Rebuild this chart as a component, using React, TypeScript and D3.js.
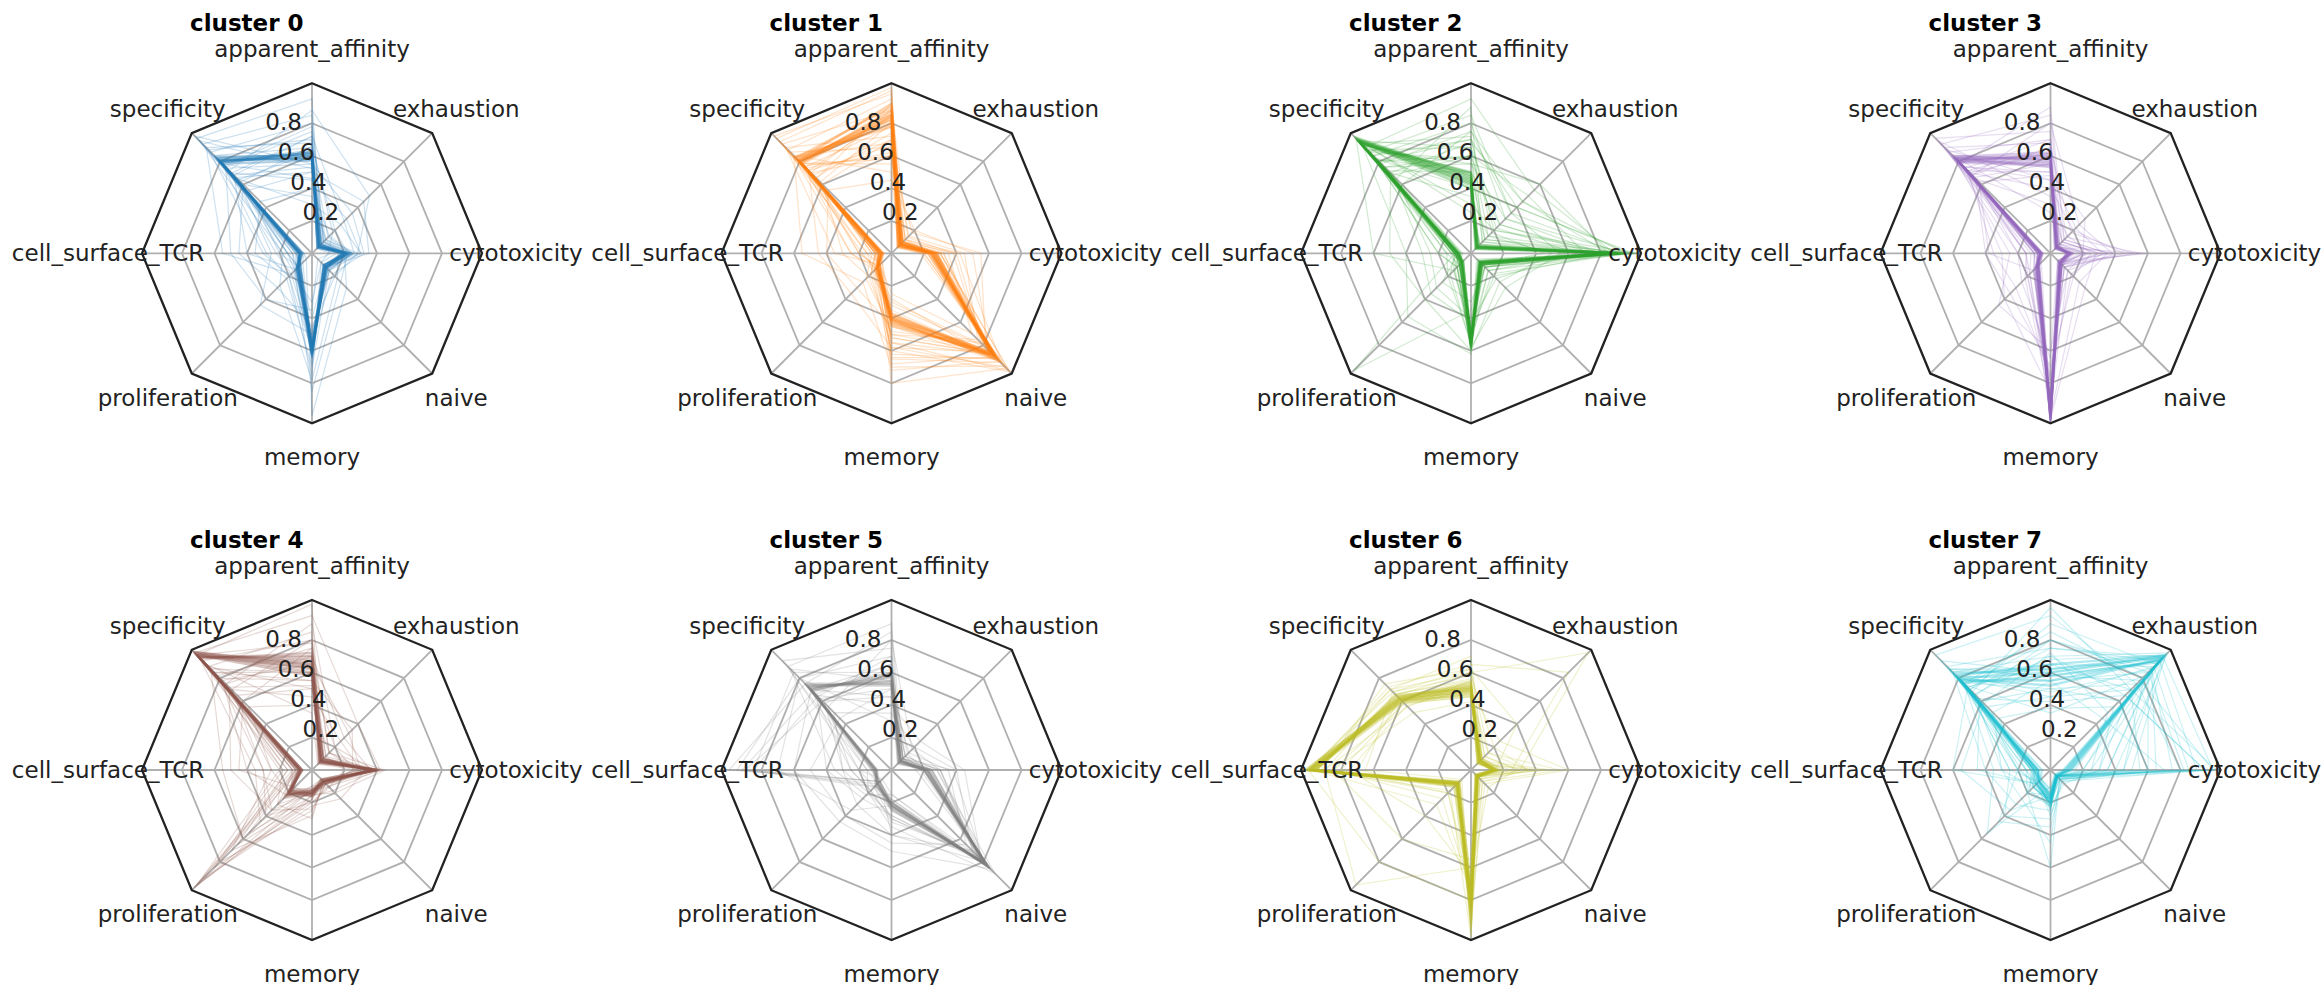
import React from 'react';
import * as d3 from 'd3';

// Radar axes, clockwise from the top
const AXES = [
  'apparent_affinity',
  'exhaustion',
  'cytotoxicity',
  'naive',
  'memory',
  'proliferation',
  'cell_surface_TCR',
  'specificity',
];

const RING_TICKS = [0.2, 0.4, 0.6, 0.8];
const RING_LABELS = ['0.2', '0.4', '0.6', '0.8'];
const R_MAX = 1.046;

const CLUSTER_NAMES = [
  'cluster 0', 'cluster 1', 'cluster 2', 'cluster 3',
  'cluster 4', 'cluster 5', 'cluster 6', 'cluster 7',
];

const CLUSTER_COLORS = [
  '#1f77b4', '#ff7f0e', '#2ca02c', '#9467bd',
  '#8c564b', '#7f7f7f', '#bcbd22', '#17becf',
];

// Per-cell profiles: [affinity, exhaustion, cytotoxicity, naive, memory, proliferation, TCR, specificity]
const cluster0Core = [
  [0.60, 0.06, 0.21, 0.12, 0.60, 0.12, 0.07, 0.80],
  [0.58, 0.05, 0.20, 0.11, 0.58, 0.13, 0.08, 0.82],
  [0.62, 0.07, 0.22, 0.12, 0.62, 0.11, 0.06, 0.79],
  [0.59, 0.06, 0.19, 0.13, 0.57, 0.12, 0.09, 0.81],
  [0.61, 0.05, 0.23, 0.10, 0.61, 0.14, 0.07, 0.83],
  [0.57, 0.07, 0.21, 0.12, 0.59, 0.10, 0.08, 0.78],
  [0.63, 0.06, 0.20, 0.11, 0.63, 0.13, 0.06, 0.80],
  [0.60, 0.08, 0.22, 0.13, 0.56, 0.12, 0.07, 0.84],
  [0.58, 0.06, 0.24, 0.12, 0.60, 0.11, 0.08, 0.81],
  [0.62, 0.05, 0.19, 0.11, 0.62, 0.13, 0.07, 0.79],
];
const cluster0Spread = [
  [0.85, 0.10, 0.25, 0.10, 0.55, 0.10, 0.10, 0.95],
  [0.45, 0.30, 0.30, 0.15, 0.50, 0.15, 0.15, 0.70],
  [0.70, 0.05, 0.15, 0.08, 0.75, 0.20, 0.30, 0.90],
  [0.35, 0.12, 0.28, 0.20, 0.45, 0.30, 0.45, 0.60],
  [0.95, 0.08, 0.18, 0.10, 0.65, 0.08, 0.05, 1.00],
  [0.50, 0.45, 0.35, 0.12, 0.40, 0.12, 0.20, 0.55],
  [0.65, 0.20, 0.22, 0.25, 0.85, 0.15, 0.12, 0.85],
  [0.75, 0.04, 0.12, 0.05, 0.35, 0.40, 0.50, 0.75],
  [0.40, 0.15, 0.25, 0.15, 0.70, 0.22, 0.35, 0.45],
  [0.55, 0.35, 0.32, 0.18, 0.55, 0.10, 0.08, 1.02],
  [0.80, 0.10, 0.20, 0.30, 1.00, 0.05, 0.05, 0.88],
  [0.30, 0.25, 0.30, 0.12, 0.50, 0.45, 0.25, 0.65],
  [0.68, 0.18, 0.10, 0.08, 0.30, 0.18, 0.55, 0.92],
  [0.88, 0.50, 0.28, 0.10, 0.62, 0.12, 0.15, 0.72],
  [0.52, 0.08, 0.16, 0.22, 0.78, 0.28, 0.18, 0.98],
  [0.72, 0.28, 0.26, 0.14, 0.48, 0.14, 0.40, 0.68],
  [0.50, 0.10, 0.22, 0.12, 0.58, 0.14, 0.10, 0.66],
  [0.66, 0.08, 0.20, 0.10, 0.62, 0.12, 0.15, 0.62],
  [0.55, 0.12, 0.25, 0.14, 0.55, 0.18, 0.22, 0.74],
  [0.72, 0.06, 0.18, 0.12, 0.65, 0.10, 0.08, 0.70],
  [0.46, 0.09, 0.21, 0.10, 0.60, 0.20, 0.28, 0.78],
  [0.62, 0.14, 0.24, 0.15, 0.52, 0.13, 0.12, 0.64],
  [0.78, 0.07, 0.19, 0.11, 0.68, 0.11, 0.06, 0.76],
  [0.53, 0.11, 0.23, 0.13, 0.64, 0.16, 0.18, 0.68],
];

const cluster1Core = [
  [0.85, 0.08, 0.26, 0.88, 0.40, 0.12, 0.06, 0.80],
  [0.82, 0.07, 0.24, 0.90, 0.42, 0.11, 0.07, 0.82],
  [0.88, 0.09, 0.27, 0.86, 0.38, 0.13, 0.05, 0.79],
  [0.80, 0.08, 0.25, 0.92, 0.41, 0.12, 0.08, 0.81],
  [0.90, 0.06, 0.23, 0.89, 0.39, 0.10, 0.06, 0.83],
  [0.84, 0.10, 0.28, 0.87, 0.43, 0.14, 0.07, 0.78],
  [0.86, 0.07, 0.25, 0.91, 0.37, 0.12, 0.06, 0.80],
  [0.78, 0.08, 0.26, 0.85, 0.40, 0.11, 0.09, 0.84],
  [0.92, 0.09, 0.24, 0.93, 0.41, 0.13, 0.06, 0.81],
  [0.83, 0.07, 0.27, 0.88, 0.44, 0.12, 0.07, 0.79],
];
const cluster1Spread = [
  [0.95, 0.05, 0.30, 1.02, 0.55, 0.10, 0.05, 0.90],
  [0.60, 0.10, 0.40, 0.80, 0.30, 0.15, 0.10, 0.70],
  [1.02, 0.08, 0.20, 0.95, 0.65, 0.08, 0.08, 1.00],
  [0.70, 0.15, 0.45, 0.75, 0.50, 0.20, 0.30, 0.60],
  [0.50, 0.06, 0.22, 0.98, 0.70, 0.25, 0.55, 0.85],
  [0.88, 0.12, 0.35, 0.70, 0.25, 0.10, 0.15, 0.95],
  [0.78, 0.05, 0.18, 1.00, 0.80, 0.12, 0.20, 0.75],
  [0.45, 0.20, 0.50, 0.85, 0.45, 0.30, 0.40, 0.55],
  [0.98, 0.10, 0.25, 0.90, 0.35, 0.08, 0.05, 1.02],
  [0.65, 0.08, 0.30, 1.03, 0.60, 0.15, 0.25, 0.88],
  [0.92, 0.14, 0.38, 0.78, 0.48, 0.22, 0.12, 0.65],
  [0.72, 0.06, 0.28, 0.94, 0.72, 0.10, 0.35, 0.92],
  [0.58, 0.18, 0.55, 0.82, 0.32, 0.18, 0.10, 0.78],
  [0.85, 0.05, 0.20, 0.99, 0.58, 0.35, 0.45, 0.72],
  [1.00, 0.09, 0.32, 0.88, 0.52, 0.12, 0.08, 0.97],
  [0.68, 0.12, 0.42, 0.96, 0.28, 0.14, 0.18, 0.84],
  [0.70, 0.08, 0.25, 0.88, 0.55, 0.12, 0.10, 0.68],
  [0.62, 0.10, 0.28, 0.92, 0.62, 0.14, 0.08, 0.74],
  [0.80, 0.07, 0.22, 0.85, 0.50, 0.10, 0.12, 0.62],
  [0.55, 0.09, 0.30, 0.90, 0.68, 0.16, 0.15, 0.78],
  [0.74, 0.08, 0.26, 0.94, 0.45, 0.12, 0.20, 0.66],
  [0.66, 0.12, 0.24, 0.86, 0.58, 0.18, 0.10, 0.72],
  [0.88, 0.06, 0.27, 0.91, 0.64, 0.11, 0.06, 0.70],
  [0.60, 0.10, 0.32, 0.87, 0.52, 0.13, 0.25, 0.76],
];

const cluster2Core = [
  [0.45, 0.05, 0.90, 0.08, 0.56, 0.08, 0.08, 0.97],
  [0.42, 0.06, 0.88, 0.09, 0.54, 0.07, 0.09, 0.98],
  [0.48, 0.04, 0.92, 0.07, 0.58, 0.09, 0.07, 0.96],
  [0.44, 0.05, 0.86, 0.08, 0.55, 0.08, 0.10, 1.00],
  [0.50, 0.06, 0.91, 0.10, 0.53, 0.07, 0.08, 0.95],
  [0.46, 0.05, 0.89, 0.08, 0.57, 0.10, 0.09, 0.99],
  [0.40, 0.07, 0.93, 0.09, 0.55, 0.08, 0.07, 0.97],
  [0.47, 0.05, 0.87, 0.07, 0.59, 0.09, 0.08, 1.01],
  [0.43, 0.06, 0.90, 0.08, 0.52, 0.08, 0.10, 0.96],
  [0.49, 0.04, 0.94, 0.09, 0.56, 0.07, 0.08, 0.98],
];
const cluster2Spread = [
  [0.80, 0.30, 0.95, 0.10, 0.45, 0.10, 0.05, 0.85],
  [0.60, 0.50, 0.70, 0.15, 0.50, 0.15, 0.10, 0.75],
  [0.30, 0.20, 1.02, 0.05, 0.58, 0.08, 0.12, 0.95],
  [0.90, 0.10, 0.60, 0.12, 0.40, 0.30, 0.25, 0.65],
  [0.55, 0.60, 0.85, 0.20, 0.48, 0.12, 0.08, 0.90],
  [0.70, 0.40, 1.00, 0.08, 0.55, 0.20, 0.15, 0.80],
  [0.35, 0.15, 0.50, 0.25, 0.60, 0.40, 0.50, 0.70],
  [0.65, 0.25, 0.80, 0.10, 0.35, 1.02, 0.10, 0.98],
  [0.75, 0.45, 0.95, 0.18, 0.52, 0.10, 0.06, 0.60],
  [0.25, 0.08, 0.75, 0.06, 0.45, 0.15, 0.60, 1.00],
  [0.85, 0.35, 0.55, 0.30, 0.58, 0.12, 0.20, 0.88],
  [0.50, 0.12, 1.03, 0.12, 0.30, 0.25, 0.08, 0.72],
  [0.95, 0.55, 0.88, 0.08, 0.50, 0.08, 0.12, 0.92],
  [0.60, 0.22, 0.65, 0.22, 0.42, 0.35, 0.30, 0.68],
  [0.40, 0.40, 0.98, 0.15, 0.56, 0.18, 0.10, 0.82],
  [0.72, 0.18, 0.45, 0.10, 0.62, 0.55, 0.40, 0.95],
  [0.60, 0.12, 0.85, 0.08, 0.55, 0.10, 0.10, 0.80],
  [0.70, 0.20, 0.90, 0.10, 0.52, 0.08, 0.08, 0.85],
  [0.55, 0.30, 0.80, 0.08, 0.58, 0.12, 0.12, 0.75],
  [0.65, 0.15, 0.95, 0.12, 0.50, 0.10, 0.15, 0.90],
  [0.50, 0.25, 0.75, 0.09, 0.56, 0.14, 0.08, 0.82],
  [0.75, 0.35, 0.92, 0.10, 0.54, 0.08, 0.10, 0.78],
  [0.58, 0.10, 0.88, 0.07, 0.60, 0.12, 0.20, 0.88],
  [0.68, 0.45, 0.85, 0.12, 0.48, 0.10, 0.10, 0.70],
];

const cluster3Core = [
  [0.58, 0.05, 0.12, 0.08, 1.02, 0.11, 0.06, 0.82],
  [0.55, 0.06, 0.10, 0.09, 1.00, 0.12, 0.07, 0.80],
  [0.60, 0.04, 0.13, 0.07, 1.03, 0.10, 0.05, 0.83],
  [0.56, 0.05, 0.11, 0.08, 0.98, 0.13, 0.06, 0.81],
  [0.62, 0.06, 0.14, 0.09, 1.01, 0.11, 0.08, 0.84],
  [0.54, 0.05, 0.12, 0.10, 0.96, 0.12, 0.06, 0.79],
  [0.59, 0.07, 0.10, 0.08, 1.03, 0.10, 0.07, 0.82],
  [0.57, 0.05, 0.13, 0.07, 0.99, 0.12, 0.05, 0.85],
  [0.61, 0.04, 0.12, 0.09, 1.00, 0.14, 0.06, 0.80],
  [0.53, 0.06, 0.11, 0.08, 1.02, 0.11, 0.07, 0.83],
];
const cluster3Spread = [
  [0.85, 0.10, 0.30, 0.10, 0.90, 0.15, 0.10, 0.95],
  [0.40, 0.20, 0.45, 0.12, 0.80, 0.20, 0.15, 0.70],
  [0.70, 0.05, 0.60, 0.08, 1.03, 0.10, 0.05, 0.88],
  [0.30, 0.15, 0.25, 0.20, 0.70, 0.35, 0.40, 0.65],
  [0.75, 0.08, 0.40, 0.15, 0.95, 0.12, 0.08, 1.00],
  [0.50, 0.30, 0.20, 0.10, 0.85, 0.40, 0.30, 0.75],
  [0.90, 0.12, 0.35, 0.25, 1.00, 0.08, 0.05, 0.78],
  [0.45, 0.05, 0.15, 0.06, 0.65, 0.25, 0.20, 0.90],
  [0.65, 0.18, 0.50, 0.12, 0.75, 0.30, 0.35, 0.72],
  [0.35, 0.10, 0.28, 0.30, 1.02, 0.18, 0.12, 0.98],
  [0.80, 0.25, 0.38, 0.08, 0.88, 0.10, 0.10, 0.68],
  [0.25, 0.08, 0.22, 0.15, 0.60, 0.45, 0.25, 0.85],
  [0.68, 0.14, 0.55, 0.10, 0.92, 0.22, 0.15, 0.92],
  [0.48, 0.22, 0.32, 0.18, 0.78, 0.15, 0.38, 0.62],
  [0.50, 0.08, 0.20, 0.10, 0.95, 0.14, 0.10, 0.72],
  [0.65, 0.06, 0.25, 0.08, 1.00, 0.12, 0.08, 0.68],
  [0.45, 0.10, 0.30, 0.12, 0.90, 0.18, 0.15, 0.76],
  [0.70, 0.07, 0.18, 0.09, 0.98, 0.10, 0.06, 0.74],
  [0.55, 0.12, 0.35, 0.10, 0.85, 0.20, 0.20, 0.66],
  [0.62, 0.05, 0.22, 0.08, 1.02, 0.13, 0.10, 0.70],
];

const cluster4Core = [
  [0.65, 0.08, 0.38, 0.10, 0.14, 0.20, 0.07, 1.00],
  [0.62, 0.07, 0.40, 0.09, 0.15, 0.18, 0.08, 1.02],
  [0.70, 0.09, 0.36, 0.11, 0.13, 0.22, 0.06, 0.98],
  [0.60, 0.08, 0.39, 0.10, 0.16, 0.19, 0.07, 1.01],
  [0.68, 0.06, 0.41, 0.08, 0.14, 0.21, 0.09, 0.99],
  [0.64, 0.09, 0.37, 0.10, 0.12, 0.17, 0.07, 1.03],
  [0.72, 0.07, 0.38, 0.11, 0.15, 0.23, 0.06, 0.97],
  [0.58, 0.08, 0.40, 0.09, 0.14, 0.20, 0.08, 1.00],
  [0.66, 0.10, 0.35, 0.10, 0.13, 0.18, 0.07, 1.02],
  [0.63, 0.07, 0.39, 0.12, 0.16, 0.21, 0.06, 0.99],
];
const cluster4Spread = [
  [0.80, 0.10, 0.35, 0.10, 0.12, 1.02, 0.10, 0.95],
  [0.45, 0.25, 0.30, 0.15, 0.20, 0.40, 0.30, 0.70],
  [1.02, 0.08, 0.40, 0.08, 0.10, 0.25, 0.08, 1.00],
  [0.55, 0.35, 0.25, 0.12, 0.25, 0.80, 0.15, 0.85],
  [0.75, 0.15, 0.45, 0.20, 0.15, 0.15, 0.45, 0.60],
  [0.35, 0.05, 0.30, 0.08, 0.18, 1.00, 0.20, 0.92],
  [0.90, 0.20, 0.38, 0.10, 0.30, 0.30, 0.10, 0.75],
  [0.60, 0.12, 0.20, 0.15, 0.12, 0.60, 0.55, 0.88],
  [0.95, 0.40, 0.42, 0.10, 0.14, 0.18, 0.12, 1.02],
  [0.50, 0.08, 0.33, 0.25, 0.22, 0.95, 0.08, 0.65],
  [0.70, 0.28, 0.36, 0.12, 0.10, 0.45, 0.35, 0.98],
  [0.40, 0.15, 0.28, 0.10, 0.28, 0.70, 0.25, 0.55],
  [0.85, 0.06, 0.40, 0.18, 0.16, 1.03, 0.12, 0.90],
  [0.65, 0.32, 0.30, 0.08, 0.12, 0.22, 0.40, 0.78],
  [0.78, 0.10, 0.44, 0.14, 0.20, 0.85, 0.18, 1.00],
  [0.52, 0.20, 0.26, 0.12, 0.24, 0.35, 0.50, 0.72],
  [0.55, 0.10, 0.36, 0.10, 0.15, 0.25, 0.12, 0.80],
  [0.70, 0.12, 0.40, 0.12, 0.14, 0.30, 0.18, 0.75],
  [0.60, 0.08, 0.38, 0.09, 0.16, 0.55, 0.10, 0.85],
  [0.80, 0.15, 0.34, 0.11, 0.13, 0.20, 0.25, 0.70],
  [0.50, 0.10, 0.42, 0.10, 0.18, 0.65, 0.15, 0.90],
  [0.75, 0.07, 0.37, 0.12, 0.14, 0.35, 0.30, 0.82],
];

const cluster5Core = [
  [0.55, 0.08, 0.22, 0.82, 0.22, 0.12, 0.10, 0.72],
  [0.52, 0.07, 0.20, 0.84, 0.20, 0.11, 0.09, 0.74],
  [0.58, 0.09, 0.24, 0.80, 0.24, 0.13, 0.11, 0.70],
  [0.54, 0.08, 0.21, 0.83, 0.21, 0.12, 0.10, 0.73],
  [0.57, 0.06, 0.23, 0.81, 0.23, 0.10, 0.12, 0.71],
  [0.53, 0.08, 0.20, 0.85, 0.20, 0.14, 0.09, 0.75],
  [0.60, 0.07, 0.22, 0.79, 0.22, 0.12, 0.10, 0.69],
];
const cluster5Spread = [
  [0.70, 0.10, 0.25, 0.80, 0.25, 0.12, 0.95, 0.80],
  [0.45, 0.12, 0.30, 0.75, 0.30, 0.15, 0.90, 0.60],
  [0.85, 0.08, 0.20, 0.85, 0.20, 0.10, 1.00, 0.75],
  [0.60, 0.05, 0.22, 0.82, 0.18, 0.14, 0.85, 0.85],
  [0.35, 0.20, 0.40, 0.70, 0.40, 0.30, 0.30, 0.50],
  [0.90, 0.10, 0.15, 0.88, 0.15, 0.08, 0.20, 0.90],
  [0.50, 0.15, 0.35, 0.65, 0.45, 0.40, 0.50, 0.45],
  [0.75, 0.06, 0.28, 0.90, 0.35, 0.20, 0.15, 0.95],
  [0.40, 0.25, 0.45, 0.78, 0.28, 0.25, 0.40, 0.65],
  [0.65, 0.12, 0.18, 0.86, 0.50, 0.45, 0.60, 0.70],
  [0.80, 0.18, 0.30, 0.72, 0.32, 0.18, 0.25, 0.55],
  [0.30, 0.08, 0.25, 0.84, 0.22, 0.35, 0.70, 0.80],
  [0.62, 0.10, 0.38, 0.80, 0.40, 0.10, 0.92, 0.68],
  [0.55, 0.14, 0.20, 0.76, 0.15, 0.22, 0.35, 0.88],
  [0.50, 0.10, 0.25, 0.80, 0.25, 0.15, 0.20, 0.62],
  [0.65, 0.08, 0.22, 0.84, 0.22, 0.12, 0.15, 0.66],
  [0.45, 0.12, 0.28, 0.78, 0.30, 0.18, 0.25, 0.70],
  [0.70, 0.06, 0.20, 0.86, 0.18, 0.10, 0.85, 0.64],
  [0.58, 0.10, 0.30, 0.82, 0.28, 0.20, 0.30, 0.58],
];

const cluster6Core = [
  [0.50, 0.08, 0.15, 0.05, 0.80, 0.12, 0.98, 0.62],
  [0.48, 0.07, 0.14, 0.06, 0.82, 0.11, 1.00, 0.60],
  [0.52, 0.09, 0.16, 0.05, 0.78, 0.13, 0.96, 0.64],
  [0.49, 0.08, 0.13, 0.04, 0.85, 0.12, 0.99, 0.61],
  [0.51, 0.06, 0.15, 0.06, 0.76, 0.10, 1.01, 0.63],
  [0.47, 0.08, 0.17, 0.05, 0.88, 0.13, 0.97, 0.59],
  [0.53, 0.07, 0.14, 0.05, 0.80, 0.12, 1.02, 0.62],
  [0.50, 0.09, 0.15, 0.06, 0.92, 0.11, 0.95, 0.65],
  [0.46, 0.08, 0.16, 0.04, 0.74, 0.14, 0.98, 0.60],
  [0.54, 0.07, 0.13, 0.06, 0.83, 0.12, 1.00, 0.63],
  [0.49, 0.08, 0.15, 0.05, 0.96, 0.12, 0.99, 0.61],
  [0.51, 0.06, 0.14, 0.05, 0.70, 0.11, 0.97, 0.62],
];
const cluster6Spread = [
  [0.60, 1.02, 0.30, 0.05, 0.85, 0.12, 0.95, 0.65],
  [0.45, 0.15, 0.55, 0.10, 0.70, 0.20, 0.80, 0.58],
  [0.70, 0.10, 0.20, 0.05, 1.02, 0.10, 1.00, 0.70],
  [0.55, 0.05, 0.40, 0.08, 0.60, 1.00, 0.90, 0.55],
  [0.48, 0.25, 0.60, 0.12, 0.90, 0.15, 0.70, 0.62],
  [0.65, 0.85, 0.25, 0.06, 0.75, 0.30, 0.98, 0.72],
  [0.42, 0.10, 0.18, 0.04, 0.55, 0.60, 0.85, 0.50],
  [0.58, 0.20, 0.35, 0.10, 1.00, 0.08, 0.65, 0.68],
  [0.52, 0.08, 0.50, 0.05, 0.80, 0.80, 1.00, 0.60],
  [0.62, 0.40, 0.15, 0.08, 0.95, 0.12, 0.92, 0.75],
  [0.50, 0.12, 0.28, 0.15, 0.65, 0.40, 0.75, 0.56],
  [0.56, 0.06, 0.45, 0.06, 1.03, 0.18, 0.95, 0.66],
  [0.55, 0.10, 0.20, 0.06, 0.80, 0.20, 0.90, 0.66],
  [0.60, 0.12, 0.30, 0.08, 0.85, 0.15, 0.95, 0.70],
  [0.45, 0.08, 0.25, 0.05, 0.75, 0.25, 0.85, 0.58],
  [0.62, 0.15, 0.35, 0.06, 0.90, 0.10, 1.00, 0.68],
];

const cluster7Core = [
  [0.60, 0.98, 0.10, 0.05, 0.18, 0.10, 0.08, 0.80],
  [0.55, 0.96, 0.12, 0.06, 0.20, 0.12, 0.10, 0.78],
  [0.65, 1.00, 0.08, 0.04, 0.16, 0.09, 0.07, 0.82],
  [0.58, 0.94, 0.11, 0.05, 0.22, 0.11, 0.09, 0.76],
  [0.62, 0.99, 0.09, 0.06, 0.17, 0.10, 0.08, 0.84],
  [0.52, 0.97, 0.13, 0.05, 0.19, 0.13, 0.11, 0.79],
];
const cluster7Spread = [
  [0.80, 0.85, 0.82, 0.05, 0.15, 0.10, 0.10, 0.65],
  [0.45, 0.70, 1.02, 0.08, 0.20, 0.15, 0.12, 0.55],
  [0.70, 1.02, 0.40, 0.06, 0.25, 0.30, 0.40, 0.85],
  [0.95, 0.75, 0.20, 0.05, 0.12, 0.08, 0.05, 1.00],
  [0.50, 0.60, 0.60, 0.10, 0.35, 0.45, 0.20, 0.60],
  [0.65, 0.90, 0.85, 0.06, 0.18, 0.12, 0.60, 0.72],
  [0.38, 0.55, 0.30, 0.12, 0.22, 0.20, 0.15, 0.45],
  [0.75, 0.98, 1.00, 0.05, 0.15, 0.10, 0.08, 0.90],
  [0.55, 0.45, 0.70, 0.08, 0.45, 0.25, 0.30, 0.50],
  [0.85, 0.80, 0.15, 0.04, 0.10, 0.55, 0.35, 0.75],
  [0.60, 1.00, 0.50, 0.06, 0.20, 0.15, 0.10, 0.95],
  [0.42, 0.65, 0.95, 0.10, 0.28, 0.12, 0.45, 0.62],
  [0.90, 0.92, 0.35, 0.05, 0.14, 0.10, 0.05, 0.70],
  [0.48, 0.88, 0.75, 0.08, 0.60, 0.20, 0.20, 0.82],
  [0.72, 0.50, 0.25, 0.06, 0.16, 0.35, 0.55, 0.58],
  [0.58, 0.95, 0.90, 0.05, 0.12, 0.08, 0.12, 0.88],
  [1.00, 0.70, 0.55, 0.07, 0.24, 0.14, 0.18, 0.68],
  [0.35, 0.82, 0.45, 0.09, 0.30, 0.40, 0.25, 0.74],
  [0.65, 0.70, 0.30, 0.06, 0.20, 0.15, 0.15, 0.78],
  [0.55, 0.85, 0.60, 0.05, 0.18, 0.10, 0.10, 0.82],
  [0.75, 0.95, 0.20, 0.06, 0.22, 0.12, 0.20, 0.70],
  [0.50, 0.75, 0.80, 0.07, 0.15, 0.20, 0.10, 0.76],
  [0.62, 0.98, 0.45, 0.05, 0.25, 0.10, 0.08, 0.88],
  [0.70, 0.65, 0.95, 0.06, 0.18, 0.15, 0.30, 0.66],
  [0.45, 0.90, 0.35, 0.08, 0.20, 0.12, 0.15, 0.80],
  [0.80, 0.88, 0.65, 0.05, 0.14, 0.08, 0.10, 0.74],
  [0.58, 0.78, 1.00, 0.06, 0.22, 0.18, 0.12, 0.86],
  [0.68, 1.00, 0.25, 0.05, 0.16, 0.10, 0.25, 0.72],
];

const CLUSTER_CORES = [
  cluster0Core, cluster1Core, cluster2Core, cluster3Core,
  cluster4Core, cluster5Core, cluster6Core, cluster7Core,
];
const CLUSTER_SPREADS = [
  cluster0Spread, cluster1Spread, cluster2Spread, cluster3Spread,
  cluster4Spread, cluster5Spread, cluster6Spread, cluster7Spread,
];

const WIDTH = 2323;
const HEIGHT = 985;
const OUTER_R = 170;
const LABEL_R = 204;
const COL_X = [312, 891.5, 1471, 2050.5];
const ROW_Y = [253.3, 770];
const FONT = '"DejaVu Sans", Verdana, sans-serif';

const rScale = d3.scaleLinear().domain([0, R_MAX]).range([0, OUTER_R]);
const axisAngle = (i: number) => (i * 2 * Math.PI) / AXES.length;

const radar = d3
  .lineRadial<number>()
  .angle((_, i) => axisAngle(i))
  .radius((v) => rScale(v))
  .curve(d3.curveLinearClosed);

const ring = (v: number) => radar(AXES.map(() => v)) as string;

const tickAngle = (-22.5 * Math.PI) / 180;

function RadarPanel({ index }: { index: number }) {
  const cx = COL_X[index % 4];
  const cy = ROW_Y[Math.floor(index / 4)];
  const color = CLUSTER_COLORS[index];
  return (
    <g transform={`translate(${cx},${cy})`}>
      {/* grid */}
      {RING_TICKS.map((t) => (
        <path key={`r${t}`} d={ring(t)} fill="none" stroke="#b0b0b0" strokeWidth={1.8} />
      ))}
      {AXES.map((a, i) => {
        const th = axisAngle(i);
        return (
          <line
            key={`s${a}`}
            x1={0}
            y1={0}
            x2={OUTER_R * Math.sin(th)}
            y2={-OUTER_R * Math.cos(th)}
            stroke="#b0b0b0"
            strokeWidth={1.8}
          />
        );
      })}
      {/* cell profiles */}
      {CLUSTER_SPREADS[index].map((p, k) => (
        <path
          key={`sp${k}`}
          d={radar(p) as string}
          fill="none"
          stroke={color}
          strokeWidth={1.2}
          strokeOpacity={0.22}
        />
      ))}
      {CLUSTER_CORES[index].map((p, k) => (
        <path
          key={`c${k}`}
          d={radar(p) as string}
          fill="none"
          stroke={color}
          strokeWidth={2.4}
          strokeOpacity={0.34}
          strokeLinejoin="round"
        />
      ))}
      {/* frame */}
      <path d={ring(R_MAX)} fill="none" stroke="#222" strokeWidth={2.3} />
      {/* radial tick labels */}
      {RING_TICKS.map((t, k) => {
        const r = rScale(t);
        return (
          <text
            key={`t${t}`}
            x={r * Math.sin(tickAngle) + 3}
            y={-r * Math.cos(tickAngle) - 3}
            fontSize={23}
            fill="#222"
            fontFamily={FONT}
          >
            {RING_LABELS[k]}
          </text>
        );
      })}
      {/* axis labels */}
      {AXES.map((a, i) => {
        const th = axisAngle(i);
        return (
          <text
            key={`l${a}`}
            x={LABEL_R * Math.sin(th)}
            y={-LABEL_R * Math.cos(th)}
            textAnchor="middle"
            dominantBaseline="central"
            fontSize={23}
            fill="#222"
            fontFamily={FONT}
          >
            {a}
          </text>
        );
      })}
      <text x={-122} y={-222} fontSize={23} fontWeight="bold" fill="#000" fontFamily={FONT}>
        {CLUSTER_NAMES[index]}
      </text>
    </g>
  );
}

export default function App() {
  return (
    <svg
      width={WIDTH}
      height={HEIGHT}
      viewBox={`0 0 ${WIDTH} ${HEIGHT}`}
      style={{ position: 'absolute', left: 0, top: 0, background: '#fff' }}
    >
      <rect width={WIDTH} height={HEIGHT} fill="#fff" />
      {CLUSTER_NAMES.map((_, i) => (
        <RadarPanel key={i} index={i} />
      ))}
    </svg>
  );
}
